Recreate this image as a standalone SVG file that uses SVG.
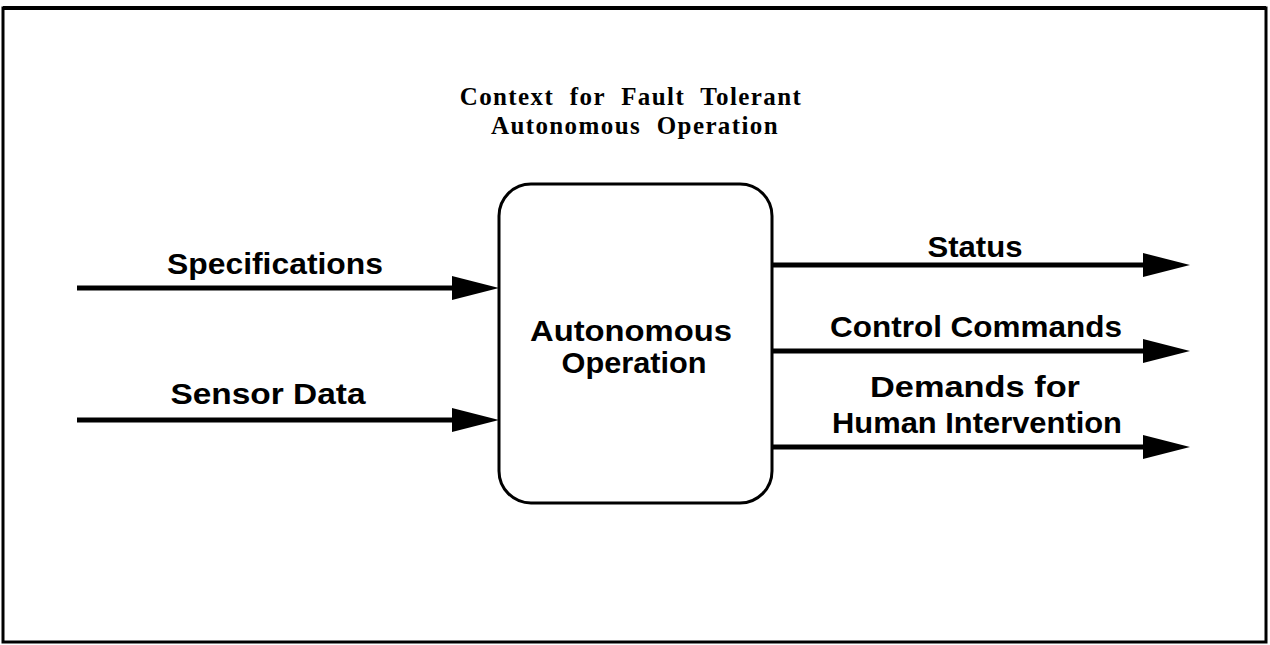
<svg xmlns="http://www.w3.org/2000/svg" width="1270" height="645" viewBox="0 0 1270 645">
  <style>
    .frame { fill: none; stroke: #000; stroke-width: 3; }
    .box { fill: #fff; stroke: #000; stroke-width: 3; }
    .flow { fill: none; stroke: #000; stroke-width: 5; }
    .lbl { font-family: "Liberation Sans", Arial, sans-serif; font-weight: bold; font-size: 30px; fill: #000; text-anchor: middle; }
    .title { font-family: "Liberation Serif", "Times New Roman", serif; font-weight: bold; font-size: 25px; letter-spacing: 1.4px; word-spacing: 8px; fill: #000; text-anchor: middle; }
  </style>
  <defs>
    <!-- solid triangular arrowhead, base at the line end -->
    <marker id="head" markerUnits="userSpaceOnUse" markerWidth="47" markerHeight="24" refX="0" refY="12" orient="auto" overflow="visible">
      <polygon points="0,0 47,12 0,24" fill="#000"/>
    </marker>
  </defs>
  <rect width="1270" height="645" fill="#fff"/>
  <!-- outer frame -->
  <rect class="frame" x="3" y="8" width="1263" height="634"/>
  <line x1="3" y1="8" x2="1266" y2="8" stroke="#000" stroke-width="4"/>

  <!-- heading -->
  <g id="heading">
    <text class="title" x="631" y="105">Context for Fault Tolerant</text>
    <text class="title" x="635" y="134">Autonomous Operation</text>
  </g>

  <!-- flows -->
  <g id="connectors">
    <line class="flow" x1="77" y1="288" x2="452" y2="288" marker-end="url(#head)"/>
    <line class="flow" x1="77" y1="420" x2="452" y2="420" marker-end="url(#head)"/>
    <line class="flow" x1="771" y1="265" x2="1143" y2="265" marker-end="url(#head)"/>
    <line class="flow" x1="771" y1="351" x2="1143" y2="351" marker-end="url(#head)"/>
    <line class="flow" x1="771" y1="447" x2="1143" y2="447" marker-end="url(#head)"/>
    <text class="lbl" x="275" y="274" textLength="216" lengthAdjust="spacingAndGlyphs">Specifications</text>
    <text class="lbl" x="268" y="404" textLength="195" lengthAdjust="spacingAndGlyphs">Sensor Data</text>
    <text class="lbl" x="975" y="257" textLength="95" lengthAdjust="spacingAndGlyphs">Status</text>
    <text class="lbl" x="976" y="337" textLength="292" lengthAdjust="spacingAndGlyphs">Control Commands</text>
    <text class="lbl" x="975" y="397" textLength="210" lengthAdjust="spacingAndGlyphs">Demands for</text>
    <text class="lbl" x="977" y="433" textLength="290" lengthAdjust="spacingAndGlyphs">Human Intervention</text>
  </g>

  <!-- process node -->
  <g id="autonomous-operation">
    <rect class="box" x="499" y="184" width="273" height="319" rx="32" ry="32"/>
    <text class="lbl" x="631" y="341" textLength="202" lengthAdjust="spacingAndGlyphs">Autonomous</text>
    <text class="lbl" x="634" y="373" textLength="145" lengthAdjust="spacingAndGlyphs">Operation</text>
  </g>
</svg>
